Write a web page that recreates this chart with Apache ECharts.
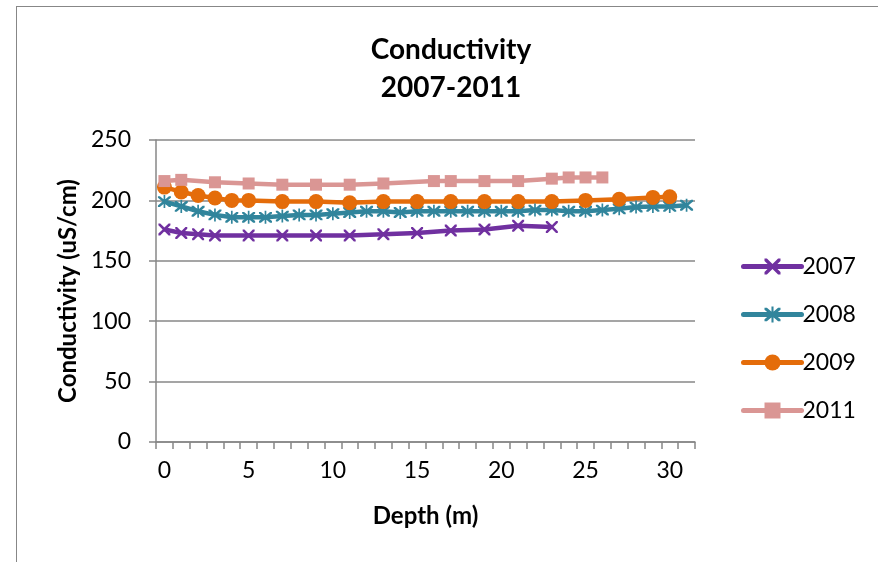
<!DOCTYPE html>
<html>
<head>
<meta charset="utf-8">
<script src="https://cdn.jsdelivr.net/npm/echarts@6/dist/echarts.min.js"></script>
<style>
	html, body { margin: 0; padding: 0; background: #fff; overflow: hidden; }
	#frame { position: absolute; left: 16px; top: 6px; width: 880px; height: 600px; border-top: 1.5px solid #878787; border-left: 1.5px solid #878787; box-sizing: border-box; }
	#chart { position: absolute; left: 0; top: 0; width: 878px; height: 562px; }
</style>
</head>
<body>
<div id="frame"></div>
<div id="chart"></div>
<script>
// depth categories 0..31 (m)
var depths = [];
for (var d = 0; d < 32; d++) depths.push(String(d));

// measured depths and conductivity (uS/cm) per year
var depth2007 = [0, 1, 2, 3, 5, 7, 9, 11, 13, 15, 17, 19, 21, 23];
var cond2007 = [176, 173, 172, 171, 171, 171, 171, 171, 172, 173, 175, 176, 179, 178];

var depth2008 = [0, 1, 2, 3, 4, 5, 6, 7, 8, 9, 10, 11, 12, 13, 14, 15, 16, 17, 18, 19, 20, 21, 22, 23, 24, 25, 26, 27, 28, 29, 30, 31];
var cond2008 = [199, 195, 191, 188, 186, 186, 186, 187, 188, 188, 189, 190, 191, 191, 190, 191, 191, 191, 191, 191, 191, 191, 192, 192, 191, 191, 192, 193, 194.5, 195, 195, 196];

var depth2009 = [0, 1, 2, 3, 4, 5, 7, 9, 11, 13, 15, 17, 19, 21, 23, 25, 27, 29, 30];
var cond2009 = [211, 207, 204, 202, 200, 200, 199, 199, 198, 199, 199, 199, 199, 199, 199, 200, 201, 202.5, 203];

var depth2011 = [0, 1, 3, 5, 7, 9, 11, 13, 16, 17, 19, 21, 23, 24, 25, 26];
var cond2011 = [216, 217, 215, 214, 213, 213, 213, 214, 216, 216, 216, 216, 218, 219, 219, 219];

var yTicks = [0, 50, 100, 150, 200, 250];

// spread a year's readings over the depth categories, gaps = null
function toSeries(ds, vs) {
	var out = [];
	for (var i = 0; i < depths.length; i++) out.push(null);
	for (var j = 0; j < ds.length; j++) out[ds[j]] = vs[j];
	return out;
}

var crossPath = 'path://M0,0 L3,0 L10,7 L17,0 L20,0 L20,3 L13,10 L20,17 L20,20 L17,20 L10,13 L3,20 L0,20 L0,17 L7,10 L0,3 Z';
var starPath = 'path://M0,0 L3,0 L10,7 L17,0 L20,0 L20,3 L13,10 L20,17 L20,20 L17,20 L10,13 L3,20 L0,20 L0,17 L7,10 L0,3 Z M8.7,-2 L11.3,-2 L11.3,22 L8.7,22 Z';

var font = 'Lato, "Open Sans", sans-serif';

function makeLine(name, color, data, symbol, size) {
	return {
		name: name,
		type: 'line',
		data: data,
		connectNulls: true,
		symbol: symbol,
		symbolSize: size,
		showAllSymbol: true,
		lineStyle: { color: color, width: 4.5 },
		itemStyle: { color: color, borderWidth: 0 },
		emphasis: { disabled: true }
	};
}

var myChart = echarts.init(document.getElementById('chart'));
var option = {
	animation: false,
	title: {
		text: 'Conductivity\n2007-2011',
		left: 446,
		textAlign: 'center',
		top: 26,
		textStyle: { fontFamily: font, fontSize: 28, fontWeight: 'bold', color: '#000', lineHeight: 38 }
	},
	legend: {
		orient: 'vertical',
		left: 736,
		top: 250,
		itemWidth: 58,
		itemHeight: 20,
		itemGap: 25,
		lineStyle: { width: 5, cap: 'round' },
		textStyle: { fontFamily: font, fontSize: 23, color: '#000', padding: [0, 0, 0, -4] },
		data: ['2007', '2008', '2009', '2011']
	},
	grid: { left: 156, right: 183, top: 140, bottom: 120 },
	xAxis: {
		type: 'category',
		data: depths,
		boundaryGap: true,
		name: 'Depth (m)',
		nameLocation: 'middle',
		nameGap: 62,
		nameTextStyle: { fontFamily: font, fontSize: 24, fontWeight: 'bold', color: '#000' },
		axisLine: { lineStyle: { color: '#878787', width: 1.5 } },
		axisTick: { show: true, interval: 0, length: 7, lineStyle: { color: '#878787', width: 1.5 } },
		axisLabel: { interval: 4, margin: 17, fontFamily: font, fontSize: 23, color: '#000' },
		splitLine: { show: false }
	},
	yAxis: {
		type: 'value',
		min: yTicks[0],
		max: yTicks[yTicks.length - 1],
		interval: 50,
		name: 'Conductivity (uS/cm)',
		nameLocation: 'middle',
		nameGap: 75,
		nameTextStyle: { fontFamily: font, fontSize: 24, fontWeight: 'bold', color: '#000' },
		axisLine: { show: true, lineStyle: { color: '#878787', width: 1.5 } },
		axisTick: { show: true, length: 7, lineStyle: { color: '#878787', width: 1.5 } },
		axisLabel: { margin: 25, fontFamily: font, fontSize: 23, color: '#000' },
		splitLine: { lineStyle: { color: '#878787', width: 1.5 } }
	},
	series: [
		makeLine('2007', '#7030A0', toSeries(depth2007, cond2007), crossPath, 12),
		makeLine('2008', '#31859C', toSeries(depth2008, cond2008), starPath, 13),
		makeLine('2009', '#E46C0A', toSeries(depth2009, cond2009), 'circle', 15),
		makeLine('2011', '#DA9694', toSeries(depth2011, cond2011), 'rect', 12)
	]
};
myChart.setOption(option);
</script>
</body>
</html>
